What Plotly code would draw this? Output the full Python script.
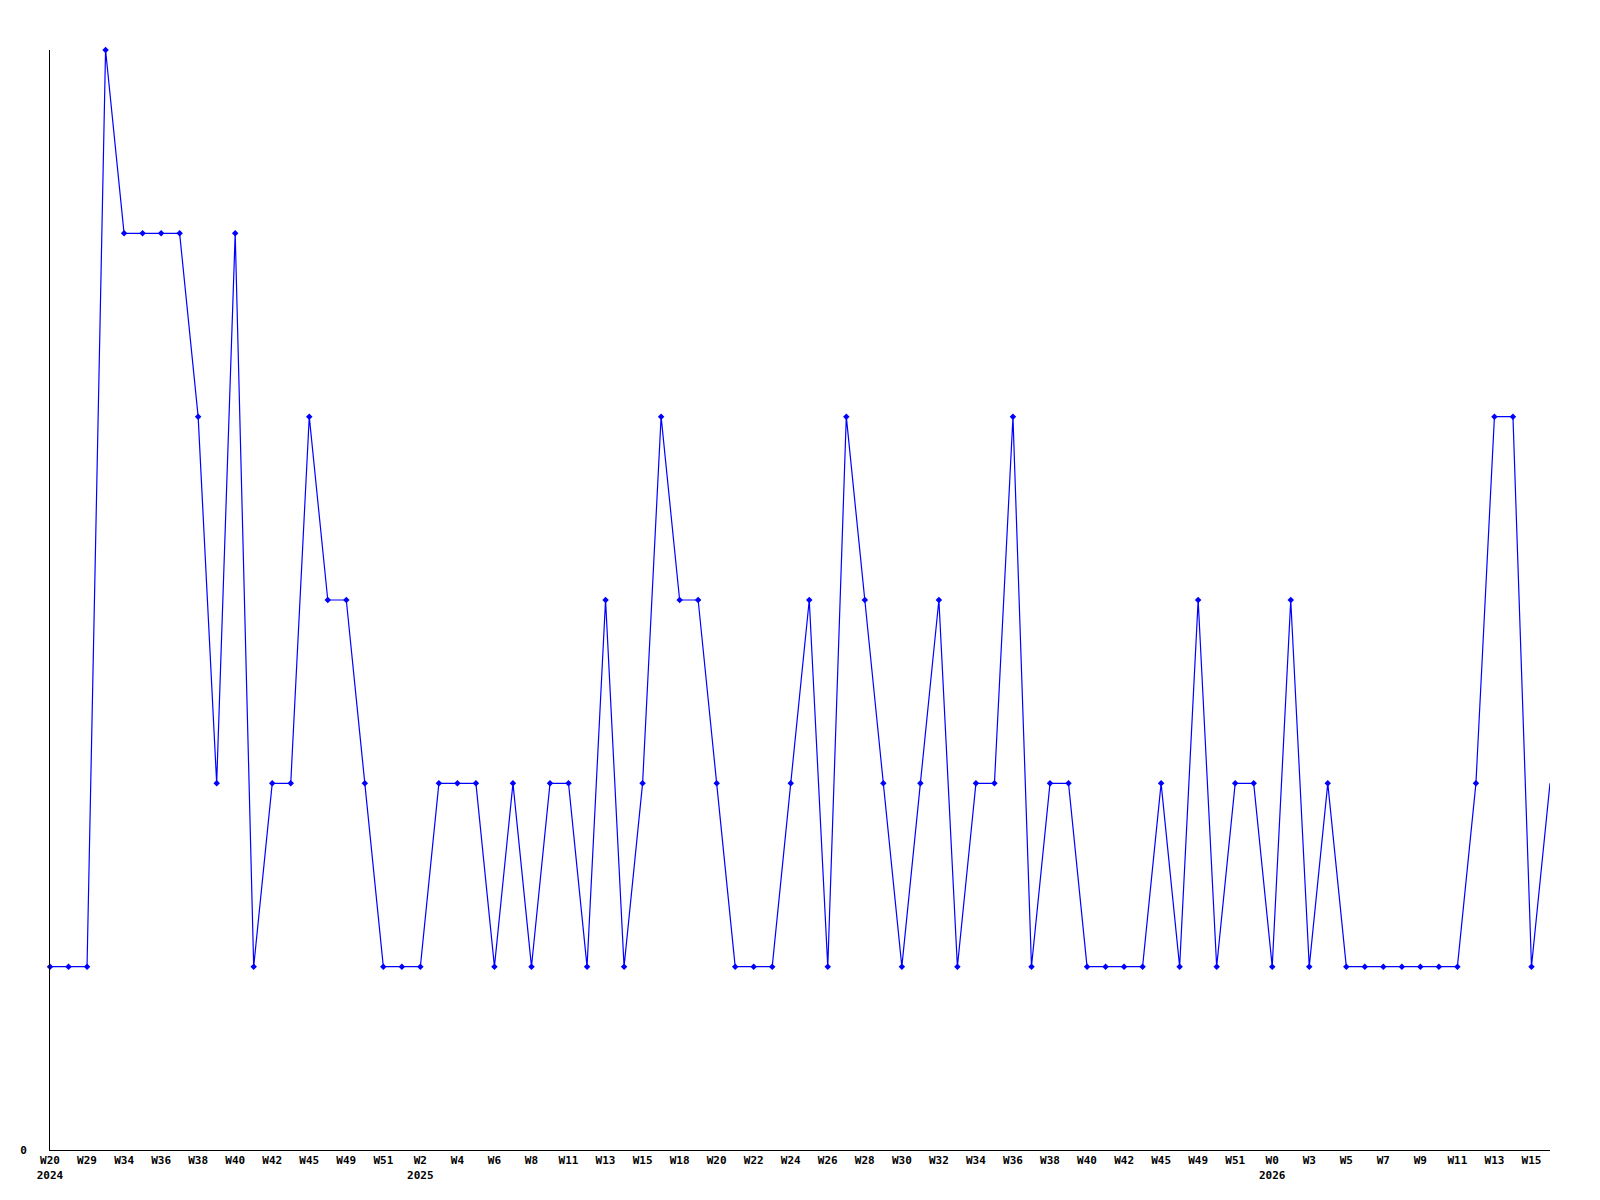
import plotly.graph_objects as go

# weekly counts, one per point (82 points)
values = [
    1, 1, 1, 6, 5, 5, 5, 5, 4, 2,
    5, 1, 2, 2, 4, 3, 3, 2, 1, 1,
    1, 2, 2, 2, 1, 2, 1, 2, 2, 1,
    3, 1, 2, 4, 3, 3, 2, 1, 1, 1,
    2, 3, 1, 4, 3, 2, 1, 2, 3, 1,
    2, 2, 4, 1, 2, 2, 1, 1, 1, 1,
    2, 1, 3, 1, 2, 2, 1, 3, 1, 2,
    1, 1, 1, 1, 1, 1, 1, 2, 4, 4,
    1, 2,
]

# labels shown on every second point
week_labels = [
    "W20", "W29", "W34", "W36", "W38", "W40", "W42", "W45", "W49", "W51",
    "W2", "W4", "W6", "W8", "W11", "W13", "W15", "W18", "W20", "W22",
    "W24", "W26", "W28", "W30", "W32", "W34", "W36", "W38", "W40", "W42",
    "W45", "W49", "W51", "W0", "W3", "W5", "W7", "W9", "W11", "W13", "W15",
]
year_marks = {0: "2024", 10: "2025", 33: "2026"}

x = list(range(len(values)))
tickvals = [i * 2 for i in range(len(week_labels))]
ticktext = [
    lab + ("<br>" + year_marks[i] if i in year_marks else "")
    for i, lab in enumerate(week_labels)
]

fig = go.Figure()
fig.add_trace(go.Scatter(
    x=x, y=values, mode="lines",
    line=dict(color="#0000ff", width=1.2),
    hoverinfo="skip",
))
fig.add_trace(go.Scatter(
    x=x[:-1], y=values[:-1], mode="markers",
    marker=dict(symbol="diamond", size=5, color="#0000ff"),
    cliponaxis=False,
))

tick_font = dict(family="DejaVu Sans Mono, monospace", size=11, color="#000000", weight="bold")

# page body adds 8px, so margins are trimmed to keep the plot box at 50..1550 / 50..1150
fig.update_layout(
    width=1600, height=1200,
    paper_bgcolor="white", plot_bgcolor="white",
    margin=dict(l=42, r=58, t=42, b=58, autoexpand=False),
    showlegend=False,
    xaxis=dict(
        range=[0, len(values) - 1],
        tickmode="array", tickvals=tickvals, ticktext=ticktext,
        showgrid=False, zeroline=False,
        showline=True, linecolor="#000000", linewidth=1,
        ticks="", tickangle=0, tickfont=tick_font,
    ),
    yaxis=dict(
        range=[0, 6],
        tickmode="array", tickvals=[0], ticktext=["0"],
        showgrid=False, zeroline=False,
        showline=True, linecolor="#000000", linewidth=1,
        ticks="", ticklabelstandoff=20, tickfont=tick_font,
    ),
)

fig.write_html("out.html")
